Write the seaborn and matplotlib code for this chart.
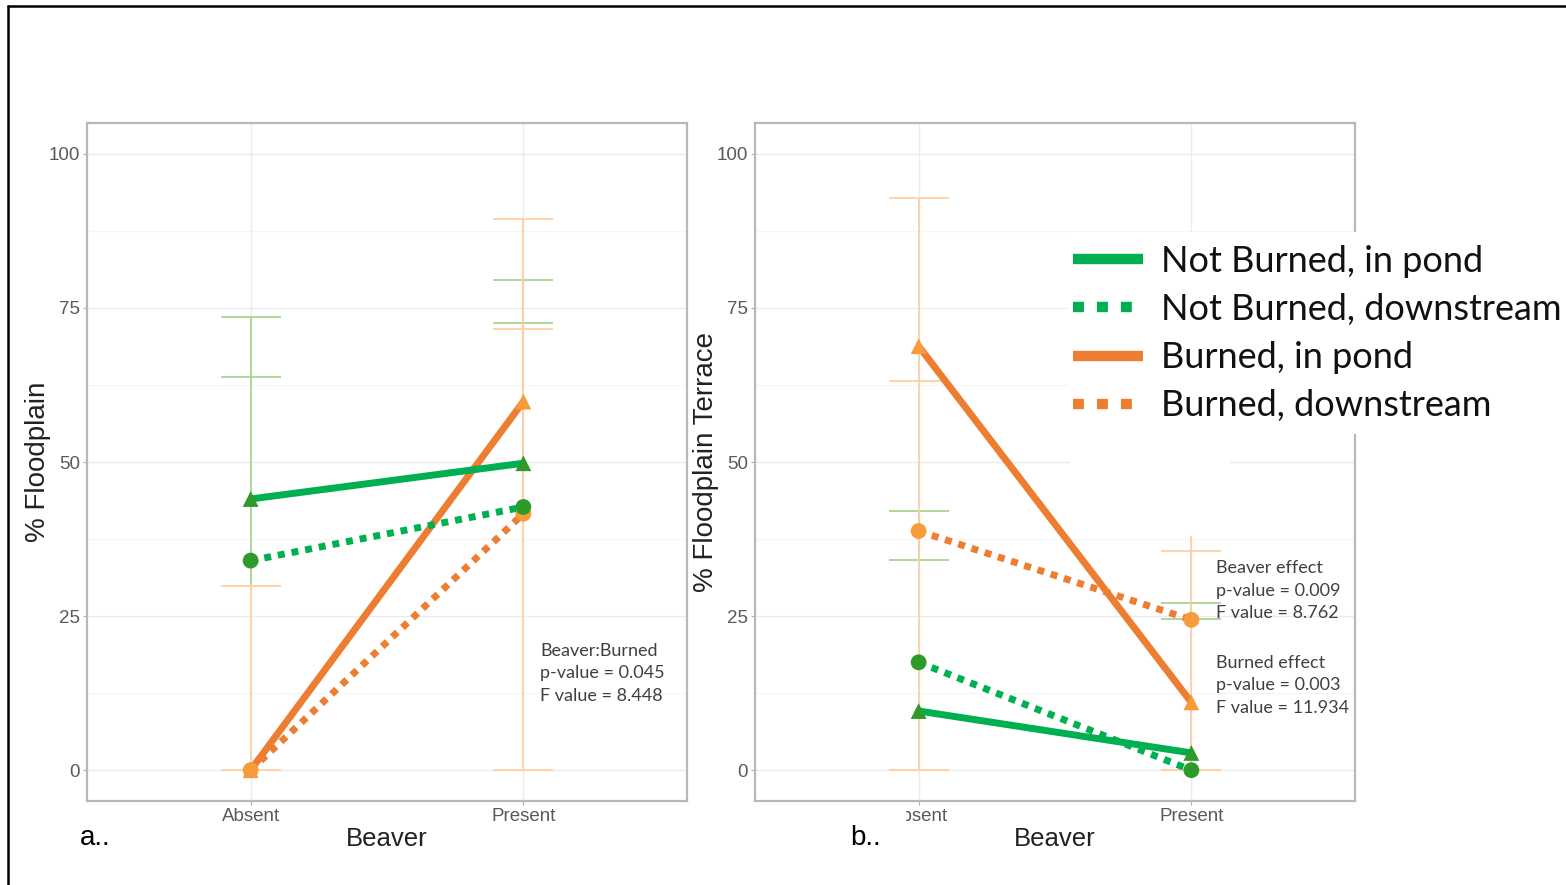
import numpy as np
import pandas as pd
import matplotlib
matplotlib.use("Agg")
import matplotlib.pyplot as plt
import seaborn as sns
from matplotlib.lines import Line2D
from matplotlib.patches import Rectangle
from matplotlib.ticker import MultipleLocator

# ---------------- data ----------------
categories = ["Absent", "Present"]
series = ["Burned, in pond", "Burned, downstream",
          "Not Burned, in pond", "Not Burned, downstream"]
legend_order = ["Not Burned, in pond", "Not Burned, downstream",
                "Burned, in pond", "Burned, downstream"]

# panel a (% Floodplain): values at Absent, Present
a_nb_pond = [44.0, 49.8]
a_nb_down = [34.0, 42.7]
a_b_pond = [0.0, 59.8]
a_b_down = [0.0, 41.6]

# panel b (% Floodplain Terrace)
b_nb_pond = [9.6, 2.8]
b_nb_down = [17.5, 0.0]
b_b_pond = [68.8, 11.0]
b_b_down = [38.8, 24.4]

# error bars: vertical spans per category and cap heights per category
a_green_bar = [(30.0, 73.5), (42.7, 79.5)]
a_orange_bar = [(0.0, 29.9), (0.0, 89.4)]
a_green_caps = [[73.5, 63.8], [79.5, 72.6]]
a_orange_caps = [[29.9, 0.0], [89.4, 71.6, 0.0]]

b_green_bar = [(34.1, 42.0), (24.5, 27.1)]
b_orange_bar = [(0.0, 92.9), (0.0, 38.0)]
b_green_caps = [[42.0, 34.1], [27.1, 24.5]]
b_orange_caps = [[92.9, 63.1, 0.0], [35.6, 0.0]]

yticks = [0, 25, 50, 75, 100]

a_stats = ["Beaver:Burned", "p-value = 0.045", "F value = 8.448"]
b_stats1 = ["Beaver effect", "p-value = 0.009", "F value = 8.762"]
b_stats2 = ["Burned effect", "p-value = 0.003", "F value = 11.934"]

# ---------------- style ----------------
GREEN = "#00B050"
ORANGE = "#ED7D31"
GREEN_M = "#2E9A2A"
ORANGE_M = "#F89B3A"
GREEN_EB = "#A9D694"
ORANGE_EB = "#FFCFA3"

line_palette = {"Not Burned, in pond": GREEN, "Not Burned, downstream": GREEN,
                "Burned, in pond": ORANGE, "Burned, downstream": ORANGE}
marker_palette = {"Not Burned, in pond": GREEN_M, "Not Burned, downstream": GREEN_M,
                  "Burned, in pond": ORANGE_M, "Burned, downstream": ORANGE_M}
dash_map = {"Not Burned, in pond": "", "Not Burned, downstream": (1, 1),
            "Burned, in pond": "", "Burned, downstream": (1, 1)}
marker_map = {"Not Burned, in pond": "^", "Not Burned, downstream": "o",
              "Burned, in pond": "^", "Burned, downstream": "o"}

sns.set_theme(style="white")
plt.rcParams["font.family"] = ["Liberation Sans", "DejaVu Sans"]

W, H = 1566, 885
fig = plt.figure(figsize=(W / 100, H / 100), dpi=100)


def fx(px):
    return px / W


def fy(py):
    return 1 - py / H


def make_df(nb_pond, nb_down, b_pond, b_down):
    vals = {"Not Burned, in pond": nb_pond, "Not Burned, downstream": nb_down,
            "Burned, in pond": b_pond, "Burned, downstream": b_down}
    rows = []
    for s in series:
        for i, c in enumerate(categories):
            rows.append({"series": s, "Beaver": i, "value": vals[s][i]})
    return pd.DataFrame(rows)


TICK_FONT = ["Liberation Sans Narrow", "Liberation Sans", "DejaVu Sans"]


def draw_panel(ax, df, green_bar, orange_bar, green_caps, orange_caps, ylabel):
    ax.set_facecolor("white")
    capw = 0.11
    for i in range(len(categories)):
        ax.vlines(i, green_bar[i][0], green_bar[i][1], color=GREEN_EB, lw=1.3, zorder=1)
        for cy in green_caps[i]:
            ax.hlines(cy, i - capw, i + capw, color=GREEN_EB, lw=1.3, zorder=1)
    for i in range(len(categories)):
        ax.vlines(i, orange_bar[i][0], orange_bar[i][1], color=ORANGE_EB, lw=1.3, zorder=1.1)
        for cy in orange_caps[i]:
            ax.hlines(cy, i - capw, i + capw, color=ORANGE_EB, lw=1.3, zorder=1.1)

    sns.lineplot(data=df, x="Beaver", y="value", hue="series", style="series",
                 palette=line_palette, dashes=dash_map, hue_order=series,
                 style_order=series, linewidth=5, legend=False, ax=ax,
                 estimator=None, sort=False, zorder=2)
    for ln in ax.lines:
        ln.set_dash_capstyle("butt")
        ln.set_solid_capstyle("butt")
    sns.scatterplot(data=df, x="Beaver", y="value", hue="series", style="series",
                    palette=marker_palette, markers=marker_map, hue_order=series,
                    style_order=series, s=130, linewidth=0, legend=False, ax=ax,
                    zorder=3)

    ax.set_xlim(-0.6, 1.6)
    ax.set_ylim(-5, 105)
    ax.set_xticks(range(len(categories)))
    ax.set_xticklabels(categories)
    ax.set_yticks(yticks)
    ax.yaxis.set_minor_locator(MultipleLocator(12.5))
    ax.grid(which="major", color="#EBEBEB", lw=1.0, zorder=0)
    ax.grid(which="minor", axis="y", color="#F5F5F5", lw=0.8, zorder=0)
    ax.set_axisbelow(True)
    for sp in ax.spines.values():
        sp.set_visible(True)
        sp.set_color("#B8B8B8")
        sp.set_linewidth(1.6)
    ax.tick_params(axis="both", which="major", length=3, width=0.8, color="#B0B0B0",
                   labelcolor="#5A5A5A", labelsize=13.5, pad=2, left=True, bottom=True)
    ax.tick_params(axis="both", which="minor", length=0)
    for lab in ax.get_xticklabels() + ax.get_yticklabels():
        lab.set_family(TICK_FONT)
    ax.set_xlabel("Beaver", family=TICK_FONT, fontsize=18.5, color="#222222")
    ax.xaxis.set_label_coords(0.5, -0.056)
    ax.xaxis.label.set_va("center")
    ax.set_ylabel(ylabel, family=["Liberation Sans", "DejaVu Sans"], fontsize=20,
                  color="#222222")
    ax.yaxis.set_label_coords(-0.082, 0.5)
    ax.yaxis.label.set_va("center")


ax1 = fig.add_axes([fx(87), fy(801), fx(687) - fx(87), fy(123) - fy(801)])
ax2 = fig.add_axes([fx(755), fy(801), fx(1355) - fx(755), fy(123) - fy(801)])

draw_panel(ax1, make_df(a_nb_pond, a_nb_down, a_b_pond, a_b_down),
           a_green_bar, a_orange_bar, a_green_caps, a_orange_caps, "% Floodplain")
draw_panel(ax2, make_df(b_nb_pond, b_nb_down, b_b_pond, b_b_down),
           b_green_bar, b_orange_bar, b_green_caps, b_orange_caps, "% Floodplain Terrace")

ANN_FONT = ["Lato", "DejaVu Sans"]
ax1.text(1.062, 15.7, "\n".join(a_stats), ha="left", va="center", fontsize=13,
         family=ANN_FONT, color="#404040", linespacing=1.5, zorder=5)
ax2.text(1.092, 29.1, "\n".join(b_stats1), ha="left", va="center", fontsize=13,
         family=ANN_FONT, color="#404040", linespacing=1.5, zorder=5)
ax2.text(1.092, 13.8, "\n".join(b_stats2), ha="left", va="center", fontsize=13,
         family=ANN_FONT, color="#404040", linespacing=1.5, zorder=5)

# white overlay boxes (legend area and label area), as in the composite
fig.add_artist(Rectangle((fx(1068), fy(434)), fx(W) - fx(1068), fy(232) - fy(434),
                         transform=fig.transFigure, facecolor="white",
                         edgecolor="none", zorder=4))
fig.add_artist(Rectangle((fx(1070), fy(535)), fx(1230) - fx(1070), fy(434) - fy(535),
                         transform=fig.transFigure, facecolor="white",
                         edgecolor="none", zorder=4))
fig.add_artist(Rectangle((fx(836), fy(852)), fx(906) - fx(836), fy(806) - fy(852),
                         transform=fig.transFigure, facecolor="white",
                         edgecolor="none", zorder=4))

# legend
handles = []
for s in legend_order:
    col = line_palette[s]
    if dash_map[s] == "":
        h = Line2D([], [], color=col, lw=7.5, solid_capstyle="butt")
    else:
        h = Line2D([], [], color=col, lw=7.5, dashes=(1.05, 1.25), dash_capstyle="butt")
    handles.append(h)
leg = fig.legend(handles, legend_order, loc="upper left",
                 bbox_to_anchor=(fx(1062), fy(234)), frameon=False,
                 prop={"family": ["Lato", "DejaVu Sans"], "size": 26},
                 handlelength=1.95, handletextpad=0.5, labelspacing=0.42,
                 borderpad=0.3, borderaxespad=0)
leg.set_zorder(6)
for t in leg.get_texts():
    t.set_color("#111111")

# panel letters
fig.text(fx(80), fy(845), "a..", fontsize=20, color="black", va="baseline",
         ha="left", family=["Liberation Sans", "DejaVu Sans"], zorder=6)
fig.text(fx(850), fy(845), "b..", fontsize=20, color="black", va="baseline",
         ha="left", family=["Liberation Sans", "DejaVu Sans"], zorder=6)

# black frame (top and left edges)
fig.add_artist(Line2D([fx(8), fx(W)], [fy(6), fy(6)], transform=fig.transFigure,
                      color="black", lw=1.8, zorder=7))
fig.add_artist(Line2D([fx(8), fx(8)], [fy(6), fy(H)], transform=fig.transFigure,
                      color="black", lw=1.8, zorder=7))

fig.savefig("out.png", dpi=100, facecolor="white")
